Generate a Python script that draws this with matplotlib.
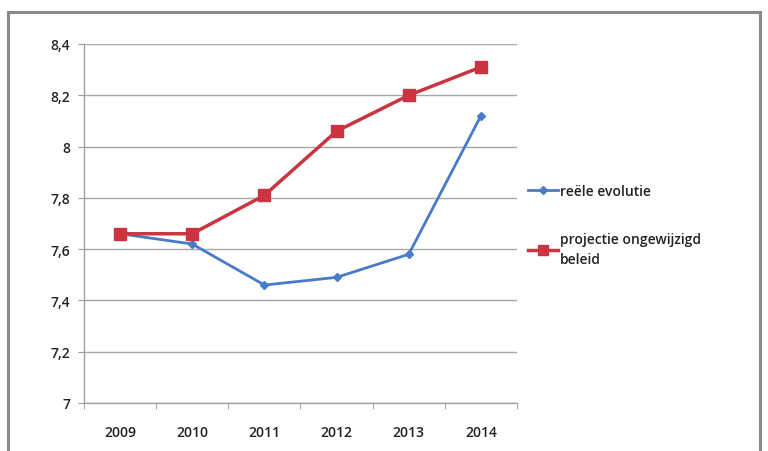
import matplotlib
matplotlib.use("Agg")
import matplotlib.pyplot as plt
from matplotlib.patches import Rectangle

years = ["2009", "2010", "2011", "2012", "2013", "2014"]
reele = [7.66, 7.62, 7.46, 7.49, 7.58, 8.12]
projectie = [7.66, 7.66, 7.81, 8.06, 8.20, 8.31]
yticks = [7.0, 7.2, 7.4, 7.6, 7.8, 8.0, 8.2, 8.4]
ytick_labels = ["7", "7,2", "7,4", "7,6", "7,8", "8", "8,2", "8,4"]

plt.rcParams['font.family'] = ['Open Sans', 'DejaVu Sans']
plt.rcParams['font.weight'] = 'semibold'

fig = plt.figure(figsize=(7.68, 4.52), dpi=100)
fig.patch.set_facecolor("white")
fig.patches.append(Rectangle((8/768, -0.05), 752/768, (452-13)/452 + 0.05,
                             transform=fig.transFigure, fill=False,
                             edgecolor="#8a8a8a", linewidth=2.2))

ax = fig.add_axes([84/768, (452-404)/452, (517-84)/768, (404-45)/452])
x = list(range(len(years)))
ax.plot(x, reele, color="#4a7bc8", linewidth=2, marker="D", markersize=4.5,
        label="reële evolutie", zorder=3)
ax.plot(x, projectie, color="#cc3440", linewidth=2.5, marker="s", markersize=8,
        label="projectie ongewijzigd\nbeleid", zorder=4)

ax.set_xlim(-0.5, len(years) - 0.5)
ax.set_ylim(7.0, 8.4)
ax.set_yticks(yticks)
ax.set_yticklabels(ytick_labels)
ax.set_xticks(x)
ax.set_xticklabels(years)
ax.set_xticks([i - 0.5 for i in range(len(years) + 1)], minor=True)
ax.tick_params(axis="x", which="major", length=0, pad=16, labelsize=10, colors="#222222")
ax.tick_params(axis="x", which="minor", length=4, color="#999999")
ax.tick_params(axis="y", length=4, color="#999999", labelsize=10, colors="#222222", pad=6)
ax.grid(axis="y", color="#a8a8a8", linewidth=1)
ax.set_axisbelow(True)
for s in ["top", "right"]:
    ax.spines[s].set_visible(False)
for s in ["left", "bottom"]:
    ax.spines[s].set_color("#a0a0a0")
    ax.spines[s].set_linewidth(1)

leg = fig.legend(loc="upper left", bbox_to_anchor=(522/768, 1 - 179/452), frameon=False,
                 fontsize=10, handlelength=2.2, handletextpad=0.1, labelspacing=2.5,
                 borderaxespad=0, markerscale=0.85)
for t in leg.get_texts():
    t.set_color("#222222")
    t.set_linespacing(1.5)

fig.savefig("out.png", dpi=100, facecolor="white")
